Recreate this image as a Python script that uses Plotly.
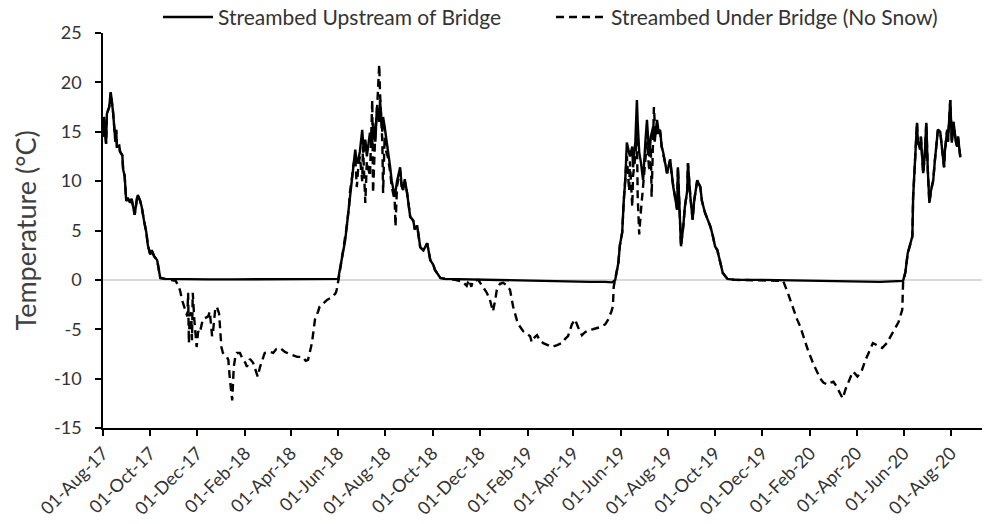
import plotly.graph_objects as go

# ---- shared summer 2017 (both loggers overlap) ----
s17_dates = ["2017-08-01","2017-08-02","2017-08-05","2017-08-06","2017-08-09","2017-08-11","2017-08-14",
             "2017-08-17","2017-08-18","2017-08-19","2017-08-22","2017-08-23","2017-08-26","2017-08-27",
             "2017-08-29","2017-08-31","2017-09-02","2017-09-05","2017-09-07","2017-09-11","2017-09-14",
             "2017-09-15","2017-09-18","2017-09-20","2017-09-23","2017-09-26","2017-09-28","2017-10-01",
             "2017-10-03","2017-10-06","2017-10-10","2017-10-12","2017-10-14"]
s17_temp = [14.5,16.5,13.8,16.8,17.5,19.0,17.0,
            14.0,15.2,13.5,13.6,13.0,12.6,11.2,
            10.5,8.0,8.3,7.8,8.2,6.6,8.3,
            8.6,8.0,7.4,6.0,4.8,3.5,2.6,
            3.0,2.4,2.0,1.0,0.2]

# ---- shared summer 2020 ----
s20_dates = ["2020-06-03","2020-06-06","2020-06-09","2020-06-12","2020-06-13","2020-06-16","2020-06-18",
             "2020-06-19","2020-06-22","2020-06-23","2020-06-26","2020-06-28","2020-06-30","2020-07-02",
             "2020-07-04","2020-07-06","2020-07-09","2020-07-11","2020-07-15","2020-07-18","2020-07-20",
             "2020-07-23","2020-07-24","2020-07-27","2020-07-28","2020-07-31","2020-08-02","2020-08-04",
             "2020-08-05","2020-08-07","2020-08-09","2020-08-10","2020-08-13"]
s20_temp = [0.8,2.7,3.5,4.4,8.4,13.5,15.9,
            14.0,13.2,14.5,10.8,12.5,15.9,11.0,
            7.8,9.0,10.1,12.0,15.2,15.0,13.5,
            11.4,13.0,15.2,14.0,18.2,13.9,16.0,
            15.5,14.0,13.5,14.5,12.4]

# ---- Streambed Upstream of Bridge ----
up_w1_dates = ["2017-10-20","2017-11-15","2017-12-15","2018-01-15","2018-02-15","2018-03-15","2018-04-15",
               "2018-05-15","2018-05-30"]
up_w1_temp = [0.1,0.05,0.05,0.05,0.05,0.05,0.05,0.05,0.1]

up_s18_dates = ["2018-06-01","2018-06-03","2018-06-06","2018-06-10","2018-06-12","2018-06-15","2018-06-16",
                "2018-06-19","2018-06-20","2018-06-23","2018-06-25","2018-06-27","2018-06-29","2018-07-02",
                "2018-07-04","2018-07-06","2018-07-08","2018-07-12","2018-07-15","2018-07-16","2018-07-19",
                "2018-07-21","2018-07-24","2018-07-25","2018-07-28","2018-07-29","2018-07-31","2018-08-02",
                "2018-08-04","2018-08-07","2018-08-09","2018-08-13","2018-08-16","2018-08-20","2018-08-22",
                "2018-08-24","2018-08-26","2018-08-29","2018-09-02","2018-09-06","2018-09-08","2018-09-11",
                "2018-09-15","2018-09-19","2018-09-24","2018-09-28","2018-10-02","2018-10-04","2018-10-11",
                "2018-10-17"]
up_s18_temp = [0.1,1.0,2.3,4.0,5.4,7.5,8.8,
               10.5,11.4,13.2,11.8,12.2,13.0,15.2,
               13.0,14.2,12.5,14.9,13.5,15.9,14.0,
               17.5,16.0,18.2,15.0,16.5,15.5,14.0,
               13.2,11.5,10.1,8.4,10.0,11.4,9.5,
               9.1,10.2,8.8,6.4,6.0,5.1,5.5,
               3.3,3.0,3.7,2.0,1.5,1.0,0.2,
               0.1]

up_w2_dates = ["2018-11-15","2018-12-15","2019-01-15","2019-02-04","2019-03-01","2019-03-24","2019-04-23",
               "2019-05-12","2019-05-21"]
up_w2_temp = [0.05,0.0,-0.05,-0.05,-0.1,-0.2,-0.2,-0.2,-0.25]

up_s19_dates = ["2019-05-25","2019-05-29","2019-05-31","2019-06-03","2019-06-05","2019-06-07","2019-06-09",
                "2019-06-12","2019-06-13","2019-06-16","2019-06-17","2019-06-20","2019-06-22","2019-06-23",
                "2019-06-25","2019-06-27","2019-06-30","2019-07-03","2019-07-05","2019-07-08","2019-07-10",
                "2019-07-13","2019-07-15","2019-07-18","2019-07-20","2019-07-22","2019-07-24","2019-07-26",
                "2019-07-28","2019-07-31","2019-08-04","2019-08-06","2019-08-08","2019-08-10","2019-08-13",
                "2019-08-14","2019-08-17","2019-08-18","2019-08-21","2019-08-23","2019-08-26","2019-08-27",
                "2019-08-30","2019-09-02","2019-09-04","2019-09-08","2019-09-12","2019-09-14","2019-09-18",
                "2019-09-22","2019-09-25","2019-09-28","2019-10-01","2019-10-04","2019-10-07","2019-10-10",
                "2019-10-11","2019-10-17","2019-10-27"]
up_s19_temp = [0.0,1.7,3.5,4.8,8.0,10.1,13.9,
               13.0,12.5,13.5,11.4,14.0,18.2,16.0,
               12.9,12.0,10.1,14.0,16.2,12.5,14.5,
               15.5,14.0,16.2,15.0,15.2,13.5,12.9,
               12.0,10.8,12.2,10.5,9.4,8.5,7.1,
               11.4,6.0,3.4,5.5,7.4,9.0,11.8,
               8.5,6.1,8.0,10.1,9.4,8.0,6.8,
               6.0,5.4,4.5,3.4,3.0,2.0,1.0,
               0.7,0.1,0.0]

up_w3_dates = ["2019-12-01","2020-01-01","2020-02-01","2020-03-01","2020-04-01","2020-05-01","2020-05-31"]
up_w3_temp = [0.0,-0.05,-0.1,-0.15,-0.2,-0.2,-0.1]

# ---- Streambed Under Bridge (No Snow) ----
ub_w1_dates = ["2017-10-27","2017-11-03","2017-11-07","2017-11-09","2017-11-11","2017-11-15","2017-11-18",
               "2017-11-19","2017-11-20","2017-11-21","2017-11-23","2017-11-24","2017-11-25","2017-11-27",
               "2017-11-30","2017-12-02","2017-12-04","2017-12-08","2017-12-15","2017-12-17","2017-12-20",
               "2017-12-21","2017-12-24","2017-12-26","2017-12-29","2018-01-01","2018-01-03","2018-01-08",
               "2018-01-10","2018-01-12","2018-01-15","2018-01-17","2018-01-19","2018-01-21","2018-01-25",
               "2018-01-29","2018-02-01","2018-02-03","2018-02-07","2018-02-11","2018-02-16","2018-02-17",
               "2018-02-20","2018-02-23","2018-02-26","2018-03-05","2018-03-09","2018-03-13","2018-03-18",
               "2018-03-24","2018-03-28","2018-04-02","2018-04-09","2018-04-16","2018-04-20","2018-04-23",
               "2018-04-28","2018-05-02","2018-05-06","2018-05-08","2018-05-18","2018-05-25","2018-05-29",
               "2018-05-30","2018-06-02"]
ub_w1_temp = [0.0,-0.1,-0.7,-1.2,-2.0,-3.0,-3.7,
              -1.3,-6.4,-3.5,-3.3,-6.1,-1.3,-4.0,
              -6.8,-5.2,-5.4,-4.0,-3.7,-3.2,-5.7,
              -5.4,-3.0,-2.7,-3.4,-6.8,-7.4,-7.8,
              -8.1,-10.1,-12.2,-8.8,-7.8,-7.4,-7.4,
              -8.1,-8.4,-8.8,-8.0,-8.4,-9.6,-9.8,
              -8.8,-8.1,-7.4,-7.3,-7.4,-7.0,-6.9,
              -7.3,-7.4,-7.6,-7.8,-7.8,-8.2,-8.1,
              -6.4,-4.0,-3.2,-2.7,-2.0,-1.7,-1.3,
              -1.0,0.3]

ub_s18_dates = ["2018-06-06","2018-06-10","2018-06-12","2018-06-15","2018-06-16","2018-06-19","2018-06-20",
                "2018-06-23","2018-06-25","2018-06-27","2018-06-29","2018-07-02","2018-07-03","2018-07-06",
                "2018-07-08","2018-07-12","2018-07-15","2018-07-16","2018-07-19","2018-07-21","2018-07-23",
                "2018-07-24","2018-07-25","2018-07-28","2018-07-29","2018-07-31","2018-08-02","2018-08-04",
                "2018-08-07","2018-08-09","2018-08-13","2018-08-14","2018-08-16","2018-08-20","2018-08-22",
                "2018-08-24","2018-08-26","2018-08-29","2018-09-02","2018-09-06","2018-09-08","2018-09-11",
                "2018-09-15","2018-09-19","2018-09-24","2018-09-28","2018-10-02","2018-10-04","2018-10-11",
                "2018-10-17"]
ub_s18_temp = [2.3,4.0,5.4,7.5,8.8,10.5,11.4,
               12.5,9.4,11.5,12.5,10.0,13.5,7.8,
               12.0,10.5,18.2,8.8,15.0,17.0,19.5,
               21.8,19.0,14.0,8.8,14.5,13.0,12.5,
               11.0,9.5,8.0,5.4,9.5,11.0,9.5,
               9.1,10.0,8.8,6.4,6.0,5.1,5.5,
               3.3,3.0,3.7,2.0,1.5,1.0,0.2,
               0.1]

ub_w2_dates = ["2018-10-30","2018-11-09","2018-11-14","2018-11-17","2018-11-20","2018-11-22","2018-11-29",
               "2018-12-05","2018-12-10","2018-12-14","2018-12-18","2018-12-21","2018-12-23","2018-12-27",
               "2018-12-31","2019-01-04","2019-01-09","2019-01-13","2019-01-17","2019-01-19","2019-01-26",
               "2019-01-31","2019-02-04","2019-02-06","2019-02-10","2019-02-13","2019-02-17","2019-02-21",
               "2019-02-26","2019-03-04","2019-03-11","2019-03-17","2019-03-21","2019-03-25","2019-03-30",
               "2019-04-03","2019-04-07","2019-04-12","2019-04-16","2019-04-20","2019-04-26","2019-05-05",
               "2019-05-12","2019-05-16","2019-05-20","2019-05-22","2019-05-23","2019-05-25"]
ub_w2_temp = [0.0,-0.2,-0.6,0.0,-0.7,-0.1,0.0,
              -0.7,-1.3,-2.0,-3.2,-2.0,-1.0,-0.4,
              -0.3,-0.5,-1.0,-2.7,-3.8,-4.4,-5.2,
              -5.5,-5.7,-6.3,-5.8,-5.6,-6.2,-6.4,
              -6.6,-6.8,-6.6,-6.4,-6.0,-5.7,-4.5,
              -4.0,-4.8,-5.6,-5.3,-5.1,-5.0,-4.8,
              -4.5,-4.0,-3.2,-2.7,-0.7,0.0]

ub_s19_dates = ["2019-05-29","2019-05-31","2019-06-03","2019-06-05","2019-06-07","2019-06-09","2019-06-12",
                "2019-06-13","2019-06-16","2019-06-17","2019-06-20","2019-06-22","2019-06-23","2019-06-25",
                "2019-06-27","2019-06-30","2019-07-03","2019-07-05","2019-07-08","2019-07-10","2019-07-11",
                "2019-07-14","2019-07-16","2019-07-18","2019-07-20","2019-07-22","2019-07-24","2019-07-26",
                "2019-07-28","2019-07-31","2019-08-04","2019-08-06","2019-08-08","2019-08-10","2019-08-13",
                "2019-08-14","2019-08-17","2019-08-18","2019-08-21","2019-08-23","2019-08-26","2019-08-27",
                "2019-08-30","2019-09-02","2019-09-04","2019-09-08","2019-09-12","2019-09-14","2019-09-18",
                "2019-09-22","2019-09-25","2019-09-28","2019-10-01","2019-10-04","2019-10-07","2019-10-10",
                "2019-10-11","2019-10-17","2019-10-27"]
ub_s19_temp = [1.7,3.5,4.8,8.0,10.1,12.5,9.0,
               12.0,7.4,10.5,12.5,15.0,8.5,4.6,
               6.8,9.4,12.5,14.0,11.0,13.5,8.4,
               17.5,14.5,15.8,14.5,15.0,13.5,12.9,
               12.0,10.8,12.2,10.5,9.4,8.5,7.1,
               11.4,6.0,3.4,5.5,7.4,9.0,11.8,
               8.5,6.1,8.0,10.1,9.4,8.0,6.8,
               6.0,5.4,4.5,3.4,3.0,2.0,1.0,
               0.7,0.1,0.0]

ub_w3_dates = ["2019-11-28","2019-12-28","2020-01-03","2020-01-10","2020-01-15","2020-01-19","2020-01-24",
               "2020-01-29","2020-02-05","2020-02-10","2020-02-14","2020-02-18","2020-02-23","2020-02-27",
               "2020-03-02","2020-03-06","2020-03-08","2020-03-14","2020-03-18","2020-03-21","2020-03-25",
               "2020-03-27","2020-03-30","2020-04-02","2020-04-06","2020-04-08","2020-04-12","2020-04-16",
               "2020-04-22","2020-04-27","2020-05-04","2020-05-10","2020-05-17","2020-05-21","2020-05-25",
               "2020-05-30","2020-05-31"]
ub_w3_temp = [-0.05,-0.1,-1.3,-3.0,-4.0,-4.7,-6.0,
              -7.1,-8.5,-9.4,-10.0,-10.4,-10.6,-10.4,
              -10.3,-10.8,-11.1,-12.0,-11.0,-10.4,-9.6,
              -9.3,-9.5,-9.8,-9.4,-9.1,-8.2,-7.4,
              -6.4,-6.6,-6.9,-6.4,-5.4,-4.8,-4.3,
              -3.0,-0.3]

series_names = ["Streambed Upstream of Bridge", "Streambed Under Bridge (No Snow)"]
y_title = "Temperature (°C)"
y_ticks = [-15, -10, -5, 0, 5, 10, 15, 20, 25]
y_tick_labels = ["-15", "-10", "-5", "0", "5", "10", "15", "20", "25"]

up_x = s17_dates + up_w1_dates + up_s18_dates + up_w2_dates + up_s19_dates + up_w3_dates + s20_dates
up_y = s17_temp + up_w1_temp + up_s18_temp + up_w2_temp + up_s19_temp + up_w3_temp + s20_temp
ub_x = s17_dates + ub_w1_dates + ub_s18_dates + ub_w2_dates + ub_s19_dates + ub_w3_dates + s20_dates
ub_y = s17_temp + ub_w1_temp + ub_s18_temp + ub_w2_temp + ub_s19_temp + ub_w3_temp + s20_temp

FONT = "Lato"
TXT = "#333333"

fig = go.Figure()
fig.add_trace(go.Scatter(x=up_x, y=up_y, mode="lines", name=series_names[0],
                         line=dict(color="black", width=2.4)))
fig.add_trace(go.Scatter(x=ub_x, y=ub_y, mode="lines", name=series_names[1],
                         line=dict(color="black", width=2.4, dash="8px,5px")))

fig.update_layout(
    width=992, height=524,
    margin=dict(l=103, r=10, t=33, b=96, autoexpand=False),
    paper_bgcolor="white", plot_bgcolor="white",
    font=dict(family=FONT, size=18, color=TXT),
    showlegend=True,
    legend=dict(orientation="h", xref="container", yref="paper",
                x=158/992, xanchor="left", y=1.0915, yanchor="top",
                font=dict(size=21, family=FONT, color=TXT),
                entrywidth=328, entrywidthmode="pixels",
                bgcolor="rgba(0,0,0,0)", itemwidth=50),
    annotations=[dict(text=y_title, xref="paper", yref="paper", x=-0.0876, y=0.5,
                      xanchor="center", yanchor="middle", textangle=-90, showarrow=False,
                      font=dict(size=27, family=FONT, color="#404040"))],
)
fig.update_xaxes(
    type="date", range=["2017-08-01", "2020-09-10"], automargin=False,
    tick0="2017-08-01", dtick="M2", tickformat="%d-%b-%y", tickangle=-45,
    showline=True, linecolor="black", linewidth=1.5,
    ticks="outside", ticklen=6, tickcolor="black", tickwidth=1.5,
    showgrid=False, zeroline=False,
    tickfont=dict(size=18, family=FONT, color=TXT),
)
fig.update_yaxes(
    range=[-15, 25], tickvals=y_ticks, ticktext=y_tick_labels, automargin=False,
    showline=True, linecolor="black", linewidth=1.5,
    ticks="outside", ticklen=6, tickcolor="black", tickwidth=1.5,
    ticklabelstandoff=10,
    showgrid=False, zeroline=True, zerolinecolor="#d9d9d9", zerolinewidth=1.5,
    tickfont=dict(size=18, family=FONT, color=TXT),
)

fig.write_html("out.html", config={"displayModeBar": False},
               post_script="document.body.style.margin='0';document.body.style.overflow='hidden';")
